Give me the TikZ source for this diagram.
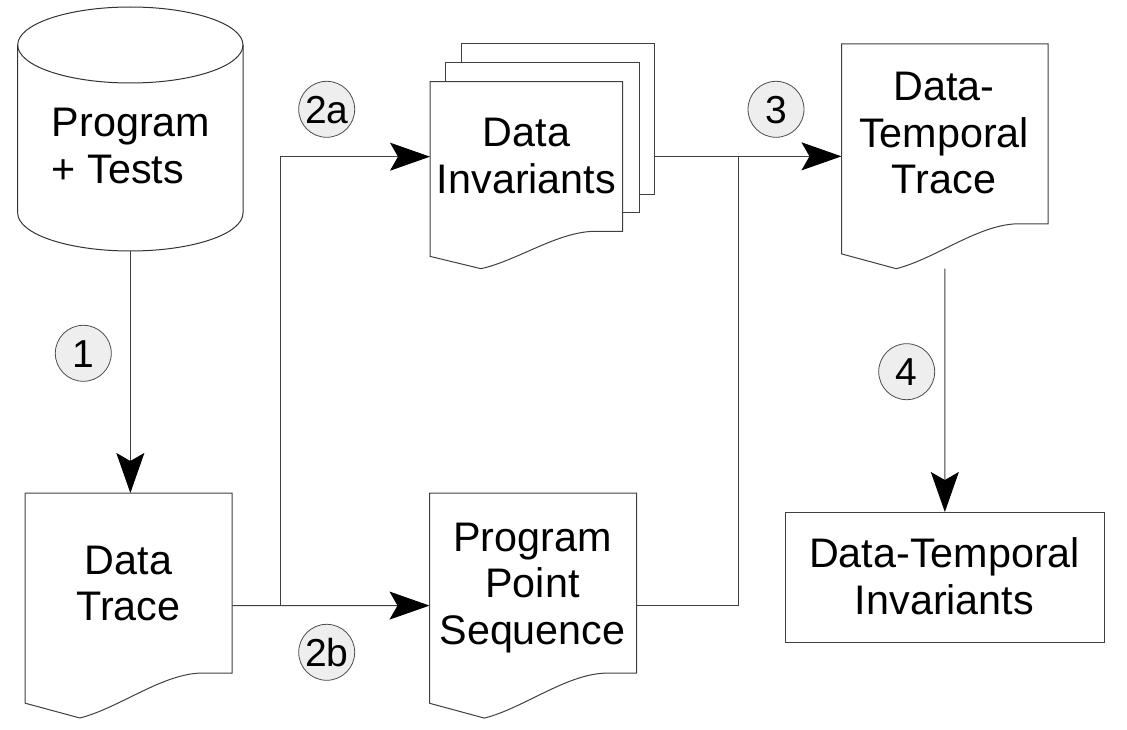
\documentclass[tikz,border=0pt]{standalone}
\usepackage{fontspec}
\setmainfont{Liberation Sans}
\usetikzlibrary{calc,arrows.meta}
\definecolor{lbl}{HTML}{EEEEEE}
\definecolor{ln}{HTML}{404040}
\tikzset{
  hidden/.style={draw=none, inner sep=0pt, outer sep=0pt},
  outline/.style={draw=ln, line width=1pt, fill=white, line join=miter},
  flow/.style={draw=ln, line width=1pt},
  tip/.style={-{Stealth[length=40pt,width=28pt,inset=8pt,color=black]}},
  txt/.style={font=\fontsize{41.3pt}{46.5pt}\selectfont, align=center, inner sep=0pt, anchor=base},
  badge/.style={circle, draw=black!70, line width=0.8pt, fill=lbl, minimum size=56pt,
    inner sep=0pt, font=\fontsize{39pt}{39pt}\selectfont, text height=27.9pt, text depth=0pt},
}
\newcommand{\docoutline}[1]{%
  \coordinate (#1-rb) at ($(#1.north east)!0.80!(#1.south east)$);
  \coordinate (#1-lb) at ($(#1.north west)!0.934!(#1.south west)$);
  \coordinate (#1-y2) at ($(#1.north west)!0.955!(#1.south west)$);
  \coordinate (#1-tr) at ($(#1.south west)!0.265!(#1.south east)$);
  \coordinate (#1-fl) at ($(#1.south west)!0.86!(#1.south east)$);
  \coordinate (#1-x1) at ($(#1.south west)!0.666!(#1.south east)$);
  \coordinate (#1-x2) at ($(#1.south west)!0.458!(#1.south east)$);
  \path[outline] (#1.north west) -- (#1.north east) -- (#1-rb) -- (#1-fl |- #1-rb)
    .. controls (#1-x1 |- #1-rb) and (#1-x2 |- #1-y2) .. (#1-tr) -- (#1-lb) -- cycle;
}
\begin{document}
\begin{tikzpicture}[x=1pt,y=-1pt]
\useasboundingbox (0,0) rectangle (1127,730);
% invisible frames
\node[hidden, minimum width=225.3pt, minimum height=244pt] (prog) at (130.35,129) {};
\node[hidden, minimum width=207pt, minimum height=225pt] (dtrace) at (128.5,605.5) {};
\node[hidden, minimum width=207pt, minimum height=225pt] (ppseq) at (533,605.6) {};
\node[hidden, minimum width=206.5pt, minimum height=224.7pt] (dtt) at (944.75,156.35) {};
\node[hidden, minimum width=192.5pt, minimum height=187pt] (dinv) at (526.25,175.2) {};
\node[hidden, minimum width=193.7pt, minimum height=150.3pt] (dinvb) at (557.85,119.15) {};
\node[hidden, minimum width=193.3pt, minimum height=150pt] (dinvm) at (542.35,137.7) {};
\node[hidden, minimum width=318.3pt, minimum height=130.7pt] (dti) at (944.85,577.35) {};
\coordinate (dinv-in) at ($(dinv.north west)!0.401!(dinv.south west)$);
\coordinate (j3) at (738.3,156.4);

% connectors
\draw[flow,tip] (prog.south) -- (prog.south |- dtrace.north);
\draw[flow,tip] (dtrace.east) -- ++(48,0) |- (dinv-in);
\draw[flow,tip] (dtrace.east) -- (ppseq.west);
\draw[flow,tip] (dinvb.east |- dtt.west) -- (dtt.west);
\draw[flow] (ppseq.east) -| (j3);
\draw[flow,tip] (dtt.south) -- (dti.north);

% shapes
\draw[draw=black!80, line width=1pt] (17.7,45) -- (17.7,213)
  .. controls (17.7,234) and (68.2,251) .. (130.35,251)
  .. controls (192.5,251) and (243,234) .. (243,213) -- (243,45);
\draw[draw=black!80, line width=1pt] (130.35,45) ellipse [x radius=112.65, y radius=38];
\docoutline{dtrace}
\docoutline{ppseq}
\docoutline{dtt}
\path[outline] (dinvb.north west) rectangle (dinvb.south east);
\path[outline] (dinvm.north west) rectangle (dinvm.south east);
\docoutline{dinv}
\path[outline] (dti.north west) rectangle (dti.south east);

% texts (anchor base = baseline of the last line)
\node[txt, align=left, anchor=base west] (prog-t) at (51.7,183.3) {Program\\+ Tests};
\node[txt] (dtrace-t) at (128.5,620.7) {Data\\Trace};
\node[txt] (dinv-t) at (526.5,193.3) {Data\\Invariants};
\node[txt] (ppseq-t) at (532.5,644) {Program\\Point\\Sequence};
\node[txt] (dtt-t) at (944,194) {Data-\\Temporal\\Trace};
\node[txt] (dti-t) at (944.5,614) {Data-Temporal\\Invariants};

% step badges
\node[badge] (b1) at (83.3,353.3) {1};
\node[badge] (b2a) at (326.7,109.3) {2a};
\node[badge] (b2b) at (326.7,652.3) {2b};
\node[badge] (b3) at (776,109.3) {3};
\node[badge] (b4) at (906.7,371.7) {4};
\end{tikzpicture}
\end{document}
